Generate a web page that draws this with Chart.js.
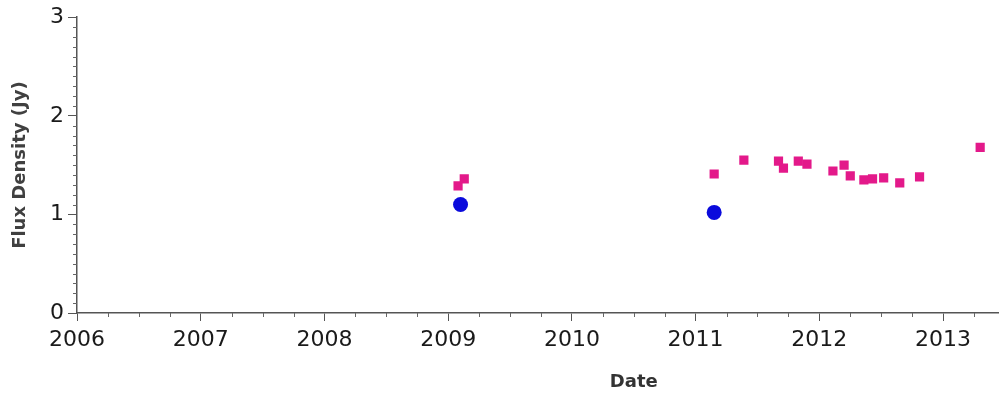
<!DOCTYPE html>
<html>
<head>
  <meta charset="UTF-8">
  <title>Flux Density</title>
  <script src="https://cdn.jsdelivr.net/npm/chart.js"></script>
</head>
<body style="margin:0;overflow:hidden;background:#fff">
  <canvas id="chart" style="display:block"></canvas>
  <script>
    // values (decimal year, Jy)
    const squareDates = [2009.08, 2009.13, 2011.15, 2011.39, 2011.67, 2011.71, 2011.83, 2011.90,
                         2012.11, 2012.20, 2012.25, 2012.36, 2012.43, 2012.52, 2012.65, 2012.81, 2013.30];
    const squareFlux  = [1.29, 1.36, 1.41, 1.55, 1.54, 1.47, 1.54, 1.51,
                         1.44, 1.50, 1.39, 1.35, 1.36, 1.37, 1.32, 1.38, 1.68];
    const circleDates = [2009.10, 2011.15];
    const circleFlux  = [1.10, 1.02];
    const yearTicks = [2006, 2007, 2008, 2009, 2010, 2011, 2012, 2013, 2014, 2015];

    const toPoints = (xs, ys) => xs.map((x, i) => ({ x: x, y: ys[i] }));

    // small ticks between the labelled ones
    const minorTicks = {
      id: 'minorTicks',
      afterDraw(chart) {
        const { ctx, scales: { x, y } } = chart;
        ctx.save();
        ctx.strokeStyle = '#666';
        ctx.lineWidth = 1;
        ctx.beginPath();
        for (let v = 2006; v < 2015; v += 0.25) {
          if (Number.isInteger(v)) continue;
          const px = Math.round(x.getPixelForValue(v)) + 0.5;
          ctx.moveTo(px, y.bottom);
          ctx.lineTo(px, y.bottom + 4);
        }
        for (let k = 1; k < 30; k++) {
          if (k % 10 === 0) continue;
          const py = Math.round(y.getPixelForValue(k / 10)) + 0.5;
          ctx.moveTo(x.left, py);
          ctx.lineTo(x.left - 4, py);
        }
        ctx.stroke();
        ctx.restore();
      }
    };

    const canvas = document.getElementById('chart');
    canvas.width = 1198;
    canvas.height = 397;
    canvas.style.width = '1198px';
    canvas.style.height = '397px';

    new Chart(canvas.getContext('2d'), {
      type: 'scatter',
      data: {
        datasets: [{
          label: 'squares',
          data: toPoints(squareDates, squareFlux),
          pointStyle: 'rect',
          pointRadius: 6.5,
          backgroundColor: '#e3198a',
          borderColor: '#e3198a',
          borderWidth: 0
        }, {
          label: 'circles',
          data: toPoints(circleDates, circleFlux),
          pointStyle: 'circle',
          pointRadius: 7.5,
          backgroundColor: '#0b0bdc',
          borderColor: '#0b0bdc',
          borderWidth: 0
        }]
      },
      options: {
        responsive: false,
        animation: false,
        layout: { padding: { top: 4, left: 0, right: 0, bottom: 0 } },
        plugins: { legend: { display: false }, tooltip: { enabled: false } },
        scales: {
          x: {
            type: 'linear',
            min: 2006,
            max: 2015,
            afterBuildTicks: s => { s.ticks = yearTicks.map(v => ({ value: v })); },
            afterFit: s => { s.height = 84; },
            border: { color: '#555', width: 1.5 },
            grid: { drawOnChartArea: false, drawTicks: true, tickLength: 8, color: '#555' },
            ticks: {
              callback: v => v <= 2013 ? String(v) : '',
              color: '#1a1a1a',
              font: { family: 'DejaVu Sans', size: 22 },
              padding: 6,
              maxRotation: 0
            },
            title: {
              display: true,
              text: 'Date',
              color: '#333',
              font: { family: 'DejaVu Sans', size: 18, weight: 'bold' },
              padding: { top: 10 }
            }
          },
          y: {
            min: 0,
            max: 3,
            ticks: {
              stepSize: 1,
              color: '#1a1a1a',
              font: { family: 'DejaVu Sans', size: 22 },
              padding: 4
            },
            afterFit: s => { s.width = 77; },
            border: { color: '#555', width: 1.5 },
            grid: { drawOnChartArea: false, drawTicks: true, tickLength: 9, color: '#555' },
            title: {
              display: true,
              text: 'Flux Density (Jy)',
              color: '#404040',
              font: { family: 'DejaVu Sans', size: 18, weight: 'bold' },
              padding: { top: 10, bottom: 0 }
            }
          }
        }
      },
      plugins: [minorTicks]
    });
  </script>
</body>
</html>
